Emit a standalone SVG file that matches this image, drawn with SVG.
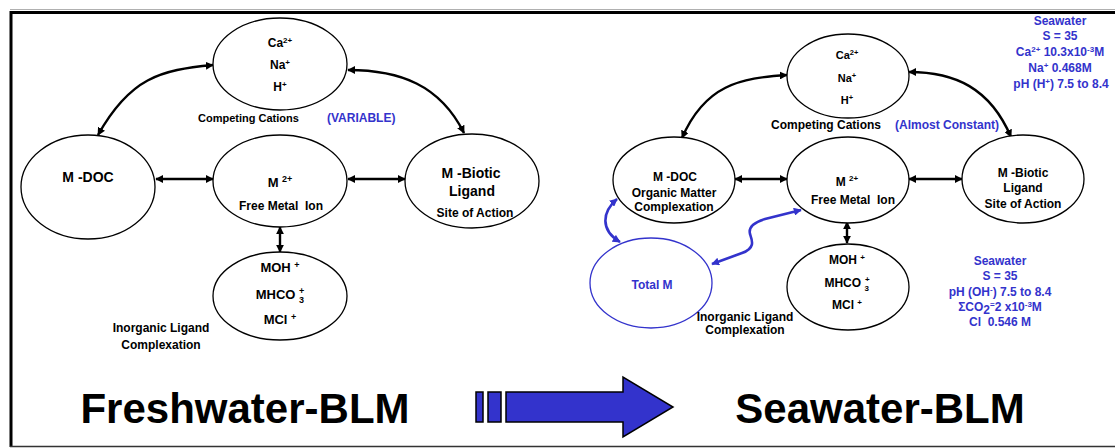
<svg xmlns="http://www.w3.org/2000/svg" width="1115" height="448" viewBox="0 0 1115 448">
  <style>
    text { font-family: "Liberation Sans", Arial, Helvetica, sans-serif; font-weight: bold; fill: #000; text-anchor: middle; }
    .st { text-anchor: start; }
    .blue { fill: #3333cc; }
    .node { fill: #fff; stroke: #000; stroke-width: 1.3; }
    .node-blue { fill: #fff; stroke: #3333cc; stroke-width: 1.3; }
    .conn { fill: none; stroke: #000; stroke-width: 2.4; }
    .conn-blue { fill: none; stroke: #3333cc; stroke-width: 2.6; }
    .s12 { font-size: 12px; }
    .s11 { font-size: 11px; }
    .s13 { font-size: 13px; }
    .s14 { font-size: 14px; }
    .title { font-size: 42px; }
  </style>
  <defs>
    <marker id="ah" viewBox="0 0 10 10" refX="9" refY="5" markerWidth="8" markerHeight="8" markerUnits="userSpaceOnUse" orient="auto-start-reverse">
      <path d="M0,0 L10,5 L0,10 z" fill="#000"/>
    </marker>
    <marker id="ahb" viewBox="0 0 10 10" refX="9" refY="5" markerWidth="8" markerHeight="8" markerUnits="userSpaceOnUse" orient="auto-start-reverse">
      <path d="M0,0 L10,5 L0,10 z" fill="#3333cc"/>
    </marker>
  </defs>

  <rect width="1115" height="448" fill="#fff"/>

  <!-- slide frame -->
  <g id="frame">
    <line x1="10" y1="9.5" x2="1115" y2="9.5" stroke="#b0b0b0" stroke-width="1"/>
    <line x1="10" y1="12.5" x2="1115" y2="12.5" stroke="#000" stroke-width="3"/>
    <line x1="11" y1="11" x2="11" y2="447" stroke="#000" stroke-width="3"/>
    <line x1="10" y1="446.5" x2="1115" y2="446.5" stroke="#333" stroke-width="1.5"/>
  </g>

  <!-- connectors -->
  <g id="connectors">
    <!-- freshwater model -->
    <path class="conn" d="M213,65 C160,70 130,78 98,135" marker-start="url(#ah)" marker-end="url(#ah)"/>
    <path class="conn" d="M348,70 C400,70 440,85 464,133" marker-start="url(#ah)" marker-end="url(#ah)"/>
    <path class="conn" d="M156,179 H213" marker-start="url(#ah)" marker-end="url(#ah)"/>
    <path class="conn" d="M348,179 H405" marker-start="url(#ah)" marker-end="url(#ah)"/>
    <path class="conn" d="M280,227 V252" marker-start="url(#ah)" marker-end="url(#ah)"/>
    <!-- seawater model -->
    <path class="conn" d="M787,75 C740,78 705,85 682,138" marker-start="url(#ah)" marker-end="url(#ah)"/>
    <path class="conn" d="M909,72 C955,72 990,88 1011,137" marker-start="url(#ah)" marker-end="url(#ah)"/>
    <path class="conn" d="M735,179 H787" marker-start="url(#ah)" marker-end="url(#ah)"/>
    <path class="conn" d="M909,179 H962" marker-start="url(#ah)" marker-end="url(#ah)"/>
    <path class="conn" d="M847,222 V243" marker-start="url(#ah)" marker-end="url(#ah)"/>
    <path class="conn-blue" d="M617,199 C602,212 600,230 620,242" marker-start="url(#ahb)" marker-end="url(#ahb)"/>
    <path class="conn-blue" d="M712,264 L742,253 C756,248 752,240 750,234 C748,226 755,222 765,219 L801,210" marker-start="url(#ahb)" marker-end="url(#ahb)"/>
  </g>

  <!-- Freshwater-BLM nodes -->
  <g id="fw-cations">
    <ellipse class="node" cx="280" cy="64" rx="67" ry="46"/>
    <text class="s12" x="280" y="47">Ca<tspan font-size="8" dy="-4">2+</tspan></text>
    <text class="s12" x="280" y="69">Na<tspan font-size="8" dy="-4">+</tspan></text>
    <text class="s12" x="280" y="91">H<tspan font-size="8" dy="-4">+</tspan></text>
    <text class="s11 st" x="198" y="122">Competing Cations</text>
    <text class="s12 st blue" x="327" y="122">(VARIABLE)</text>
  </g>
  <g id="fw-mdoc">
    <ellipse class="node" cx="88" cy="187" rx="67" ry="52"/>
    <text class="s14" x="88" y="182">M -DOC</text>
  </g>
  <g id="fw-free-metal">
    <ellipse class="node" cx="280" cy="181" rx="67" ry="46"/>
    <text class="s13" x="280" y="187">M <tspan font-size="9" dy="-5">2+</tspan></text>
    <text class="s12" x="281" y="210" xml:space="preserve">Free Metal  Ion</text>
  </g>
  <g id="fw-biotic">
    <ellipse class="node" cx="472" cy="181" rx="67" ry="47"/>
    <text class="s14" x="471" y="178">M -Biotic</text>
    <text class="s14" x="472" y="196">Ligand</text>
    <text class="s12" x="475" y="217">Site of Action</text>
  </g>
  <g id="fw-inorganic">
    <ellipse class="node" cx="280" cy="296" rx="67" ry="44"/>
    <text class="s13" x="280" y="272">MOH <tspan font-size="9" dy="-4">+</tspan></text>
    <text class="s13" x="280" y="299">MHCO <tspan font-size="9" dy="4">3</tspan><tspan font-size="9" dx="-5" dy="-9">+</tspan></text>
    <text class="s13" x="280" y="324">MCl <tspan font-size="9" dy="-4">+</tspan></text>
    <text class="s12" x="161" y="332">Inorganic Ligand</text>
    <text class="s12" x="161" y="349">Complexation</text>
  </g>
  <g id="fw-title">
    <text class="title" x="245" y="423">Freshwater-BLM</text>
  </g>

  <!-- transition arrow -->
  <g id="transition-arrow" fill="#3333cc" stroke="#000" stroke-width="1.5">
    <rect x="476" y="392" width="7" height="30"/>
    <rect x="488" y="392" width="13" height="30"/>
    <polygon points="506,392 623,392 623,377 673,407 623,437 623,422 506,422"/>
  </g>

  <!-- Seawater-BLM nodes -->
  <g id="sw-cations">
    <ellipse class="node" cx="848" cy="76" rx="61" ry="42"/>
    <text class="s11" x="847" y="59">Ca<tspan font-size="7.5" dy="-4">2+</tspan></text>
    <text class="s11" x="847" y="82">Na<tspan font-size="7.5" dy="-4">+</tspan></text>
    <text class="s11" x="847" y="104">H<tspan font-size="7.5" dy="-4">+</tspan></text>
    <text class="s12 st" x="771" y="129">Competing Cations</text>
    <text class="s12 st blue" x="895" y="129">(Almost Constant)</text>
  </g>
  <g id="sw-mdoc">
    <ellipse class="node" cx="674" cy="180" rx="61" ry="43"/>
    <text class="s12" x="675" y="181">M -DOC</text>
    <text class="s12" x="674" y="197">Organic Matter</text>
    <text class="s12" x="674" y="211">Complexation</text>
  </g>
  <g id="sw-free-metal">
    <ellipse class="node" cx="848" cy="180" rx="61" ry="43"/>
    <text class="s12" x="847" y="186">M <tspan font-size="8" dy="-5">2+</tspan></text>
    <text class="s12" x="853" y="204" xml:space="preserve">Free Metal  Ion</text>
  </g>
  <g id="sw-biotic">
    <ellipse class="node" cx="1023" cy="179" rx="61" ry="44"/>
    <text class="s12" x="1023" y="177">M -Biotic</text>
    <text class="s12" x="1023" y="192">Ligand</text>
    <text class="s12" x="1023" y="208">Site of Action</text>
  </g>
  <g id="sw-total-m">
    <ellipse class="node-blue" cx="651" cy="283" rx="61" ry="45"/>
    <text class="s12 blue" x="652" y="289">Total M</text>
  </g>
  <g id="sw-inorganic">
    <ellipse class="node" cx="848" cy="287" rx="61" ry="43"/>
    <text class="s12" x="847" y="264">MOH <tspan font-size="8" dy="-4">+</tspan></text>
    <text class="s12" x="847" y="287">MHCO <tspan font-size="8" dy="4">3</tspan><tspan font-size="8" dx="-4" dy="-9">+</tspan></text>
    <text class="s12" x="847" y="309">MCl <tspan font-size="8" dy="-4">+</tspan></text>
    <text class="s12" x="745" y="321">Inorganic Ligand</text>
    <text class="s12" x="745" y="334">Complexation</text>
  </g>
  <g id="sw-conditions-top">
    <text class="s12 blue" x="1060" y="25">Seawater</text>
    <text class="s12 blue" x="1060" y="40">S = 35</text>
    <text class="s12 blue" x="1060" y="56">Ca<tspan font-size="8" dy="-4">2+</tspan><tspan dy="4"> 10.3x10</tspan><tspan font-size="8" dy="-4">-3</tspan><tspan dy="4">M</tspan></text>
    <text class="s12 blue" x="1060" y="72">Na<tspan font-size="8" dy="-4">+</tspan><tspan dy="4"> 0.468M</tspan></text>
    <text class="s12 blue" x="1061" y="88">pH (H<tspan font-size="8" dy="-4">+</tspan><tspan dy="4">) 7.5 to 8.4</tspan></text>
  </g>
  <g id="sw-conditions-bottom">
    <text class="s12 blue" x="1000" y="265">Seawater</text>
    <text class="s12 blue" x="1000" y="280">S = 35</text>
    <text class="s12 blue" x="1000" y="296">pH (OH<tspan font-size="8" dy="-4">-</tspan><tspan dy="4">) 7.5 to 8.4</tspan></text>
    <text class="s12 blue" x="1000" y="311">ΣCO<tspan dy="3">2</tspan><tspan font-size="8" dy="-7">=</tspan><tspan dy="4">2 x10</tspan><tspan font-size="8" dy="-4">-3</tspan><tspan dy="4">M</tspan></text>
    <text class="s12 blue" x="1000" y="326" xml:space="preserve">Cl  0.546 M</text>
  </g>
  <g id="sw-title">
    <text class="title" x="880" y="423">Seawater-BLM</text>
  </g>
</svg>
